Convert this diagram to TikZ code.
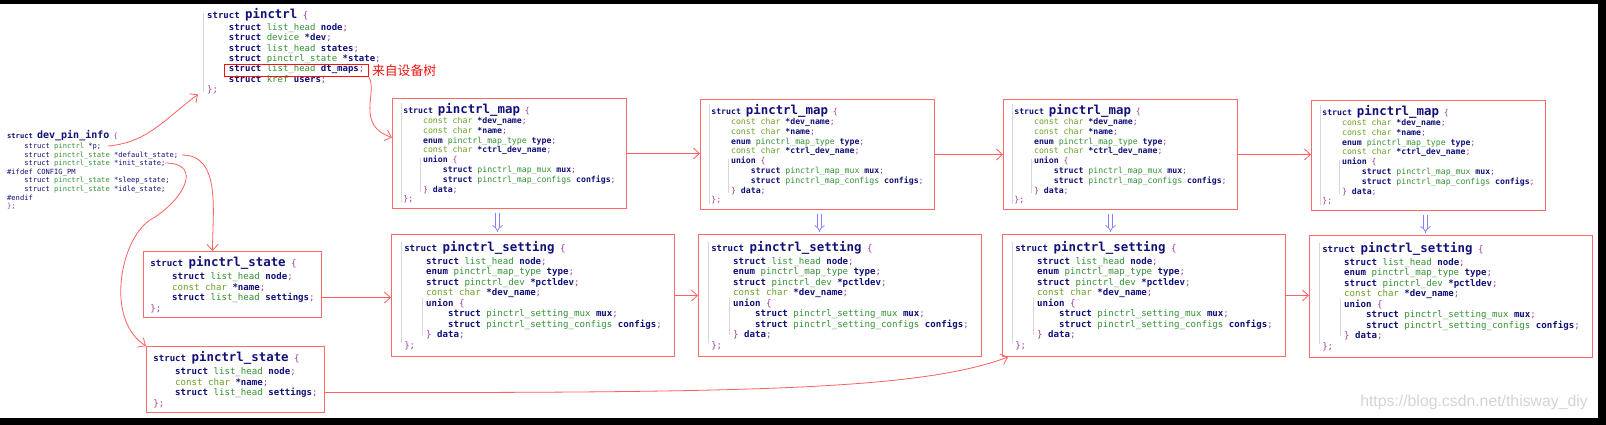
\documentclass[tikz,border=0pt]{standalone}
\usepackage{fontspec}
\setmainfont{Liberation Sans}
\setmonofont{DejaVu Sans Mono}
\newfontfamily\cjk{Noto Sans CJK SC}
\usetikzlibrary{positioning,arrows.meta}

\definecolor{kwblue}{RGB}{16,16,120}
\definecolor{tygreen}{RGB}{50,145,50}
\definecolor{cgreen}{RGB}{105,160,35}
\definecolor{brpurple}{RGB}{160,60,160}
\definecolor{boxred}{RGB}{255,105,105}
\definecolor{linkred}{RGB}{255,95,95}
\definecolor{dtred}{RGB}{240,20,20}
\definecolor{dblblue}{RGB}{130,130,255}
\definecolor{guidegray}{RGB}{215,215,215}
\definecolor{water}{RGB}{212,212,212}

\newcommand\kw[1]{\textcolor{kwblue}{\bfseries #1}}
\newcommand\nv[1]{\textcolor{kwblue}{#1}}
\newcommand\ty[1]{\textcolor{tygreen}{#1}}
\newcommand\cc{\textcolor{cgreen}{const char}}
\newcommand\pu[1]{\textcolor{brpurple}{#1}}
\newcommand\tb{\phantom{xxxx}}
\newcommand\sname[2][12.4]{{\fontsize{#1}{#1}\selectfont\kw{#2}}}

\newcommand\mapfont{\ttfamily\fontsize{8.2}{9.8}\selectfont}
\newcommand\setfont{\ttfamily\fontsize{9.1}{10.5}\selectfont}
\newcommand\pinfont{\ttfamily\fontsize{9}{10.4}\selectfont}
\newcommand\devfont{\ttfamily\fontsize{7.1}{8.6}\selectfont}

\newcommand\mapcode{%
\kw{struct} \sname{pinctrl\_map} \pu{\{}\\
\tb\cc{} \kw{*dev\_name}\pu{;}\\
\tb\cc{} \kw{*name}\pu{;}\\
\tb\kw{enum} \ty{pinctrl\_map\_type} \kw{type}\pu{;}\\
\tb\cc{} \kw{*ctrl\_dev\_name}\pu{;}\\
\tb\kw{union} \pu{\{}\\
\tb\tb\kw{struct} \ty{pinctrl\_map\_mux} \kw{mux}\pu{;}\\
\tb\tb\kw{struct} \ty{pinctrl\_map\_configs} \kw{configs}\pu{;}\\
\tb\pu{\}} \kw{data}\pu{;}\\
\pu{\};}}

\newcommand\setcode{%
\kw{struct} \sname{pinctrl\_setting} \pu{\{}\\[2.5pt]
\tb\kw{struct} \ty{list\_head} \kw{node}\pu{;}\\
\tb\kw{enum} \ty{pinctrl\_map\_type} \kw{type}\pu{;}\\
\tb\kw{struct} \ty{pinctrl\_dev} \kw{*pctldev}\pu{;}\\
\tb\cc{} \kw{*dev\_name}\pu{;}\\
\tb\kw{union} \pu{\{}\\
\tb\tb\kw{struct} \ty{pinctrl\_setting\_mux} \kw{mux}\pu{;}\\
\tb\tb\kw{struct} \ty{pinctrl\_setting\_configs} \kw{configs}\pu{;}\\
\tb\pu{\}} \kw{data}\pu{;}\\
\pu{\};}}

\newcommand\statecode{%
\kw{struct} \sname{pinctrl\_state} \pu{\{}\\[2.5pt]
\tb\kw{struct} \ty{list\_head} \kw{node}\pu{;}\\
\tb\cc{} \kw{*name}\pu{;}\\
\tb\kw{struct} \ty{list\_head} \kw{settings}\pu{;}\\
\pu{\};}}

\tikzset{%
    code/.style={anchor=north west, align=left, inner sep=0pt},
    box/.style={draw=boxred, line width=1pt, anchor=north west, align=left, inner sep=0pt},
    mapbox/.style={box, minimum width=234pt, minimum height=110pt, font=\mapfont},
    setbox/.style={box, minimum width=283pt, minimum height=122pt, font=\setfont},
    statebox/.style={box, minimum width=178pt, minimum height=66pt, font=\setfont},
    link/.style={draw=linkred, line width=0.8pt, -{Straight Barb[length=6pt,width=11pt]}},
    dbl/.style={draw=dblblue, double=white, double distance=3pt, line width=0.7pt, -{Implies}},
    guide/.style={draw=guidegray, line width=0.6pt}
}

\begin{document}
\begin{tikzpicture}[x=1pt,y=1pt]
    \fill[black] (0,0) rectangle (1606,-425);
    \fill[white] (0,-4) rectangle (1598,-418);

    % the two structs at the left
    \node[code, font=\pinfont] (pinctrl) at (207,-8) {%
        \kw{struct} \sname{pinctrl} \pu{\{}\\[1.7pt]
        \tb\kw{struct} \ty{list\_head} \kw{node}\pu{;}\\
        \tb\kw{struct} \ty{device} \kw{*dev}\pu{;}\\
        \tb\kw{struct} \ty{list\_head} \kw{states}\pu{;}\\
        \tb\kw{struct} \ty{pinctrl\_state} \kw{*state}\pu{;}\\
        \tb\kw{struct} \ty{list\_head} \kw{dt\_maps}\pu{;}\\
        \tb\kw{struct} \ty{kref} \kw{users}\pu{;}\\
        \pu{\};}};
    \node[draw=dtred, line width=0.9pt, minimum width=144pt, minimum height=12pt,
          anchor=north west, inner sep=0pt] (dtmaps) at (224,-64) {};
    \node[right=3pt of dtmaps, inner sep=0pt, text=dtred,
          font=\cjk\fontsize{12.8}{13}\selectfont] (fromdt) {来自设备树};

    \node[code, font=\devfont] (devinfo) at (7,-130) {%
        \kw{struct} \sname[10]{dev\_pin\_info} \pu{\{}\\[1.6pt]
        \tb\nv{struct} \ty{pinctrl} \nv{*p;}\\
        \tb\nv{struct} \ty{pinctrl\_state} \nv{*default\_state;}\\
        \tb\nv{struct} \ty{pinctrl\_state} \nv{*init\_state;}\\
        \nv{\#ifdef CONFIG\_PM}\\
        \tb\nv{struct} \ty{pinctrl\_state} \nv{*sleep\_state;}\\
        \tb\nv{struct} \ty{pinctrl\_state} \nv{*idle\_state;}\\
        \nv{\#endif}\\
        \pu{\};}};

    \node[statebox] (state1) at (143,-251) {\statecode};
    \node[statebox] (state2) at (146,-346) {\statecode};

    % maps and settings
    \node[mapbox] (map1) at (392,-98) {\mapcode};
    \node[mapbox] (map2) at (700,-99) {\mapcode};
    \node[mapbox] (map3) at (1003,-99) {\mapcode};
    \node[mapbox] (map4) at (1311,-100) {\mapcode};
    \node[setbox] (set1) at (391,-234) {\setcode};
    \node[setbox] (set2) at (698,-234) {\setcode};
    \node[setbox] (set3) at (1002,-234) {\setcode};
    \node[setbox] (set4) at (1309,-235) {\setcode};

    \node[font=\fontsize{15.8}{16}\selectfont, text=water] (mark) at (1474,-402)
        {https://blog.csdn.net/thisway\_diy};

    % line ends in dev_pin_info
    \coordinate (pfield) at (108,-146);
    \coordinate (deffield) at (182,-155);
    \coordinate (initfield) at (165,-163);

    \draw[link] (pfield) to[out=5,in=216] ([xshift=-9pt]pinctrl.south west);
    \draw[link] (dtmaps.south east) .. controls (378,-92) and (355,-125) .. ([yshift=16pt]map1.west);
    \draw[link] (deffield) to[out=0,in=90] ([xshift=-20pt]state1.north);
    \draw[link] (initfield) .. controls (205,-163) and (182,-202) .. (150,-220)
        .. controls (120,-240) and (105,-320) .. (state2.north west);
    \draw[link] ([yshift=-13pt]state1.east) -- ([yshift=-13pt]state1.east -| set1.west);
    \draw[link] ([yshift=-13pt]state2.east) .. controls (750,-393) and (920,-390) .. ([xshift=6pt]set3.south west);

    \draw[link] (map1.east) -- (map1.east -| map2.west);
    \draw[link] (map2.east) -- (map2.east -| map3.west);
    \draw[link] (map3.east) -- (map3.east -| map4.west);
    \draw[link] (set1.east) -- (set1.east -| set2.west);
    \draw[link] (set3.east) -- (set3.east -| set4.west);

    \draw[dbl, shorten <=4pt, shorten >=2pt] ([xshift=-12pt]map1.south) -- ([xshift=-12pt]map1.south |- set1.north);
    \draw[dbl, shorten <=4pt, shorten >=2pt] ([xshift=2pt]map2.south) -- ([xshift=2pt]map2.south |- set2.north);
    \draw[dbl, shorten <=4pt, shorten >=2pt] ([xshift=-10pt]map3.south) -- ([xshift=-10pt]map3.south |- set3.north);
    \draw[dbl, shorten <=4pt, shorten >=2pt] ([xshift=-3pt]map4.south) -- ([xshift=-3pt]map4.south |- set4.north);

    % folding guides
    \draw[guide] ([xshift=-4pt,yshift=-5pt]pinctrl.north west) -- ([xshift=-4pt,yshift=2pt]pinctrl.south west);
    \foreach \m in {map1,map2,map3,map4}{
        \draw[guide] ([xshift=9pt,yshift=-5pt]\m.north west) -- ([xshift=9pt,yshift=6pt]\m.south west);
        \draw[guide] ([xshift=28pt,yshift=-60pt]\m.north west) -- ([xshift=28pt,yshift=-94pt]\m.north west);
    }
    \foreach \s in {set1,set2,set3,set4}{
        \draw[guide] ([xshift=10pt,yshift=-8pt]\s.north west) -- ([xshift=10pt,yshift=14pt]\s.south west);
        \draw[guide] ([xshift=31pt,yshift=-64pt]\s.north west) -- ([xshift=31pt,yshift=-101pt]\s.north west);
    }
\end{tikzpicture}
\end{document}
